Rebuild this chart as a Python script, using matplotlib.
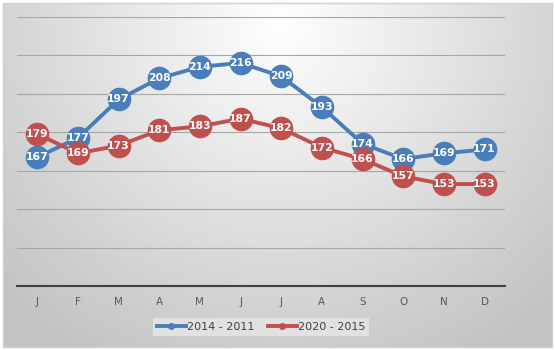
import matplotlib.pyplot as plt
import numpy as np

# données
months = ['J', 'F', 'M', 'A', 'M', 'J', 'J', 'A', 'S', 'O', 'N', 'D']
serie_a = [167, 177, 197, 208, 214, 216, 209, 193, 174, 166, 169, 171]
serie_b = [179, 169, 173, 181, 183, 187, 182, 172, 166, 157, 153, 153]
labels = ['2014 - 2011', '2020 - 2015']
colors = ['#4a7ebb', '#c0504d']

fig = plt.figure(figsize=(5.55, 3.5), dpi=100)

# fond en dégradé radial
bg = fig.add_axes([0, 0, 1, 1], zorder=-2)
W, H = 555, 350
yy, xx = np.mgrid[0:H, 0:W]
d = np.sqrt(((xx - 280) / 330.0) ** 2 + ((yy - 20) / 330.0) ** 2)
g = np.clip(1.0 - 0.2 * d, 0.765, 1.0)
img = np.dstack([g, g, g])
img[:3, :] = 1; img[-3:, :] = 1; img[:, :3] = 1; img[:, -3:] = 1
bg.imshow(img, extent=[0, W, H, 0], aspect='auto')
bg.add_patch(plt.Rectangle((3, 3), W - 6, H - 6, fill=False, ec='#d0d0d0', lw=1))
bg.set_xlim(0, W); bg.set_ylim(H, 0)
bg.axis('off')

ax = fig.add_axes([0.0306, 0.183, 0.879, 0.769])
ax.patch.set_alpha(0)
x = np.arange(len(months))
for vals, lab, col in zip([serie_a, serie_b], labels, colors):
    ax.plot(x, vals, color=col, lw=2.8, marker='o', ms=16, mec=col, mfc=col, label=lab, zorder=3)
    for xi, v in zip(x, vals):
        ax.text(xi, v, str(v), ha='center', va='center', color='white',
                fontsize=7.8, fontweight='bold', zorder=4)

ax.set_xlim(-0.5, 11.5)
ax.set_ylim(100, 240)
ax.set_yticks(np.arange(100, 241, 20))
ax.yaxis.grid(True, color='#a6a6a6', lw=0.8)
ax.set_axisbelow(True)
ax.tick_params(axis='y', left=False, labelleft=False)
ax.set_xticks(x)
ax.set_xticklabels(months, color='#595959', fontsize=7.5)
ax.tick_params(axis='x', length=0, pad=8)
for s in ['top', 'right', 'left']:
    ax.spines[s].set_visible(False)
ax.spines['bottom'].set_color('#404040')
ax.spines['bottom'].set_linewidth(1.5)

handles = [plt.Line2D([], [], color=c, lw=2.8, marker='o', ms=4) for c in colors]
leg = fig.legend(handles, labels, loc='center', bbox_to_anchor=(261 / W, 1 - 327 / H),
                 ncol=2, frameon=True, fontsize=8, handlelength=2.6, columnspacing=1.2,
                 handletextpad=0.1, borderpad=0.4, fancybox=False)
leg.get_frame().set_facecolor('#e4e4e4')
leg.get_frame().set_edgecolor('none')
leg.get_frame().set_alpha(0.9)
for t in leg.get_texts():
    t.set_color('#404040')

fig.savefig('out.png', dpi=100)
